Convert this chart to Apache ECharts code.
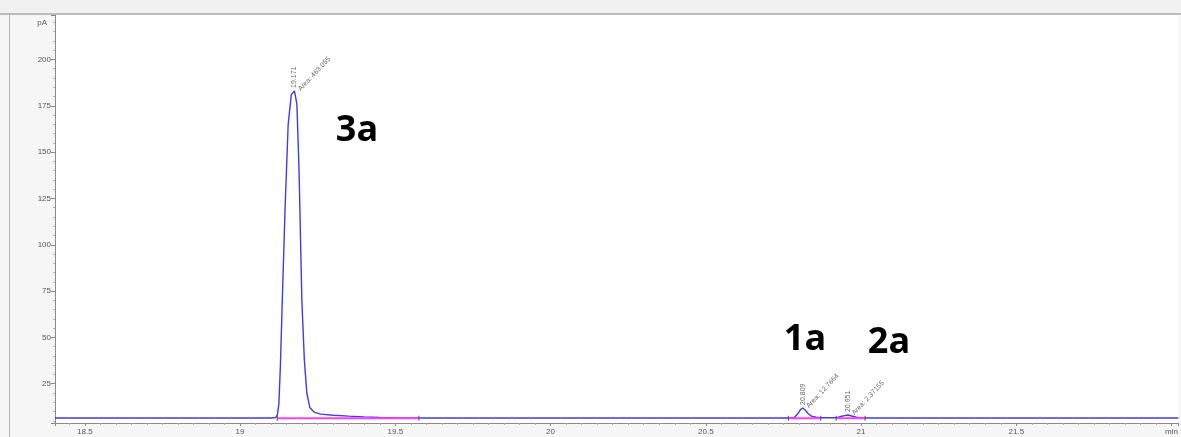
<!DOCTYPE html>
<html>
<head>
<meta charset="utf-8">
<script src="https://cdn.jsdelivr.net/npm/echarts@6/dist/echarts.min.js"></script>
<style>
  html, body { margin: 0; padding: 0; background: #f6f6f6; }
  #chart { width: 1181px; height: 437px; }
</style>
</head>
<body>
<div id="chart"></div>
<script>
// FID trace: retention time (min) and detector signal (pA)
const traceTime = [
  18.404, 18.8, 19.0, 19.10, 19.115, 19.12, 19.125, 19.13, 19.136, 19.145, 19.155, 19.165,
  19.175, 19.183, 19.19, 19.199, 19.207, 19.215, 19.225, 19.24, 19.26, 19.30, 19.35,
  19.40, 19.45, 19.50, 19.6, 20.0, 20.4, 20.77, 20.785, 20.795, 20.805, 20.812, 20.82,
  20.83, 20.84, 20.855, 20.87, 20.92, 20.935, 20.95, 20.958, 20.97, 20.985, 21.0,
  21.5, 22.022
];
const traceSignal = [
  6.5, 6.5, 6.5, 6.5, 6.8, 8.0, 14, 35, 70, 120, 165, 181,
  183, 176, 140, 70, 38, 20, 12, 9.5, 8.6, 8.0, 7.5,
  7.1, 6.8, 6.6, 6.5, 6.5, 6.5, 6.5, 6.8, 8.5, 11, 11.9, 10.8,
  8.8, 7.5, 6.9, 6.6, 6.6, 7.3, 7.9, 8.1, 7.6, 6.9, 6.5,
  6.5, 6.5
];

// Integration baselines (start, end, level)
const baselineStart = [19.12, 20.766, 20.92];
const baselineEnd   = [19.576, 20.87, 21.013];
const baselineLevel = [6.4, 6.4, 6.4];

// Peak annotations
const peakTime   = [19.175, 20.812, 20.958];
const peakSignal = [183, 11.9, 8.1];
const peakRT     = ['19.171', '20.809', '20.951'];
const peakArea   = ['Area: 463.055', 'Area: 12.7664', 'Area: 2.37155'];
const peakName   = ['3a', '1a', '2a'];

// Axis tick labels
const yTickLabels = [25, 50, 75, 100, 125, 150, 175, 200];
const xTickLabels = ['18.5', '19', '19.5', '20', '20.5', '21', '21.5', 'min'];

const chart = echarts.init(document.getElementById('chart'));

const trace = traceTime.map((t, i) => [t, traceSignal[i]]);

const baselineSeries = baselineStart.map((s, i) => ({
  type: 'line',
  data: [[s, baselineLevel[i]], [baselineEnd[i], baselineLevel[i]]],
  symbol: 'none',
  silent: true,
  z: 4,
  lineStyle: { color: '#ff3cff', width: 2 }
}));

const tickMarks = [];
baselineStart.forEach((s, i) => {
  tickMarks.push([s, baselineLevel[i]]);
  tickMarks.push([baselineEnd[i], baselineLevel[i]]);
});

const xLabelFor = v => {
  const k = Math.round((v - 18.5) / 0.5);
  if (Math.abs(v - (18.5 + k * 0.5)) > 1e-6) return '';
  return xTickLabels[k] !== undefined ? xTickLabels[k] : '';
};

const option = {
  backgroundColor: '#f6f6f6',
  animation: false,
  grid: {
    left: 55, right: 0, top: 15, bottom: 14,
    show: true, backgroundColor: '#ffffff', borderWidth: 0
  },
  xAxis: {
    type: 'value',
    min: 18.404,
    max: 22.022,
    minInterval: 0.5,
    maxInterval: 0.5,
    axisLine: { show: true, onZero: false, lineStyle: { color: '#8a8a8a', width: 1 } },
    axisTick: { show: true, length: 3, lineStyle: { color: '#8a8a8a' } },
    minorTick: { show: true, splitNumber: 10, length: 2, lineStyle: { color: '#b0b0b0' } },
    splitLine: { show: false },
    axisLabel: {
      showMinLabel: false, showMaxLabel: false,
      fontSize: 8, color: '#555', margin: 5, fontFamily: 'Liberation Sans',
      formatter: v => xLabelFor(v)
    }
  },
  yAxis: {
    type: 'value',
    min: 3.8,
    max: 224,
    minInterval: 25,
    maxInterval: 25,
    axisLine: { show: true, lineStyle: { color: '#8a8a8a', width: 1 } },
    axisTick: { show: true, length: 4, lineStyle: { color: '#8a8a8a' } },
    minorTick: { show: true, splitNumber: 5, length: 2, lineStyle: { color: '#b0b0b0' } },
    splitLine: { show: false },
    axisLabel: {
      showMinLabel: false, showMaxLabel: false,
      fontSize: 8, color: '#555', margin: 4, fontFamily: 'Liberation Sans',
      formatter: v => (yTickLabels.indexOf(v) >= 0 ? String(v) : '')
    }
  },
  series: [
    {
      type: 'line',
      data: trace,
      symbol: 'none',
      z: 3,
      lineStyle: { color: '#3d3de4', width: 1.4 }
    },
    ...baselineSeries,
    {
      type: 'scatter',
      data: tickMarks,
      symbol: 'rect',
      symbolSize: [1.2, 5],
      z: 5,
      itemStyle: { color: '#553399' },
      silent: true
    },
    {
      // retention time labels, vertical
      type: 'scatter',
      data: peakTime.map((t, i) => ({ value: [t, peakSignal[i]], rt: peakRT[i] })),
      symbolSize: 0,
      silent: true,
      z: 6,
      label: {
        show: true,
        position: [0, -3],
        rotate: 90,
        align: 'left',
        verticalAlign: 'middle',
        fontSize: 7,
        color: '#444',
        fontFamily: 'Liberation Sans',
        formatter: p => p.data.rt
      }
    },
    {
      // integrated area labels, slanted
      type: 'scatter',
      data: peakTime.map((t, i) => ({ value: [t, peakSignal[i]], area: peakArea[i] })),
      symbolSize: 0,
      silent: true,
      z: 6,
      label: {
        show: true,
        position: [5, -1],
        rotate: 47,
        align: 'left',
        verticalAlign: 'middle',
        fontSize: 7,
        color: '#444',
        fontFamily: 'Liberation Sans',
        formatter: p => p.data.area
      }
    }
  ],
  graphic: [
    { type: 'rect', shape: { x: 0, y: 0, width: 1181, height: 13 }, style: { fill: '#f1f1f1' }, silent: true },
    { type: 'line', shape: { x1: 0, y1: 14, x2: 1181, y2: 14 }, style: { stroke: '#a8a8a8', lineWidth: 1.5 }, silent: true },
    { type: 'line', shape: { x1: 9.5, y1: 14, x2: 9.5, y2: 437 }, style: { stroke: '#b8b8b8', lineWidth: 1 }, silent: true },
    { type: 'text', x: 47, y: 23, style: { text: 'pA', fontSize: 8, fill: '#555', align: 'right', verticalAlign: 'middle', fontFamily: 'Liberation Sans' }, silent: true },
    { type: 'text', x: 357, y: 131, style: { text: peakName[0], fontSize: 36, fontWeight: 'bold', fill: '#000', align: 'center', verticalAlign: 'middle', fontFamily: 'Open Sans' }, silent: true },
    { type: 'text', x: 805, y: 340, style: { text: peakName[1], fontSize: 36, fontWeight: 'bold', fill: '#000', align: 'center', verticalAlign: 'middle', fontFamily: 'Open Sans' }, silent: true },
    { type: 'text', x: 889, y: 343, style: { text: peakName[2], fontSize: 36, fontWeight: 'bold', fill: '#000', align: 'center', verticalAlign: 'middle', fontFamily: 'Open Sans' }, silent: true }
  ]
};

chart.setOption(option);
</script>
</body>
</html>
